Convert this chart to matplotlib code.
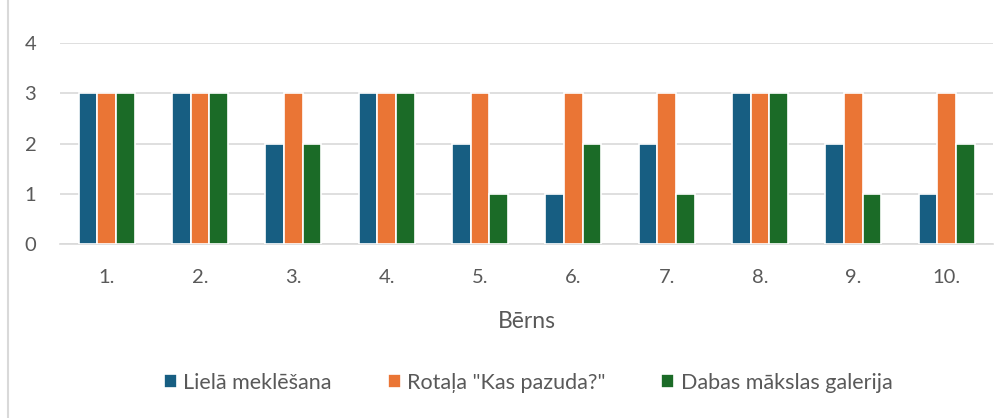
import numpy as np
import matplotlib.pyplot as plt
from matplotlib.patches import Rectangle

plt.rcParams['font.family'] = ['Lato', 'DejaVu Sans']

berni = ["1.", "2.", "3.", "4.", "5.", "6.", "7.", "8.", "9.", "10."]
liela_meklesana = [3, 3, 2, 3, 2, 1, 2, 3, 2, 1]
rotala = [3, 3, 3, 3, 3, 3, 3, 3, 3, 3]
dabas_galerija = [3, 3, 2, 3, 1, 2, 1, 3, 1, 2]

nosaukumi = ['Lielā meklēšana', 'Rotaļa "Kas pazuda?"', 'Dabas mākslas galerija']
krasas = ["#175E82", "#EA7535", "#1B6B27"]

fig = plt.figure(figsize=(10.08, 4.18), dpi=100)
ax = fig.add_axes([0.0595, 0.416, 0.926, 0.481])

x = np.arange(len(berni))
w = 0.2
for i, (dati, nos, kr) in enumerate(zip([liela_meklesana, rotala, dabas_galerija], nosaukumi, krasas)):
    ax.bar(x + (i - 1) * w, dati, width=w, color=kr, edgecolor="white", linewidth=1.2, label=nos, zorder=3)

ax.set_xlim(-0.5, len(berni) - 0.5)
ax.set_ylim(0, 4)
ax.set_yticks([0, 1, 2, 3, 4])
ax.set_xticks(x)
ax.set_xticklabels(berni)
ax.yaxis.grid(True, color="#D9D9D9", linewidth=1.2, zorder=0)
for s in ["top", "right", "left"]:
    ax.spines[s].set_visible(False)
ax.spines["bottom"].set_color("#D9D9D9")
ax.spines["bottom"].set_linewidth(1.2)
ax.tick_params(length=0, labelsize=14.5, colors="#595959")
ax.tick_params(axis="x", pad=18)
ax.tick_params(axis="y", pad=17)

ax.set_xlabel("Bērns", fontsize=16.5, color="#595959", labelpad=18)

fig.legend(loc="center", bbox_to_anchor=(0.524, 0.084), ncol=3, frameon=False,
           fontsize=15.5, labelcolor="#595959", handlelength=0.6, handleheight=0.6,
           handletextpad=0.3, columnspacing=2.6)

fig.patches.append(Rectangle((0.008, -0.01), 1.0, 1.02, transform=fig.transFigure,
                             fill=False, edgecolor="#D9D9D9", linewidth=1.5))

fig.savefig("out.png", dpi=100, facecolor="white")
